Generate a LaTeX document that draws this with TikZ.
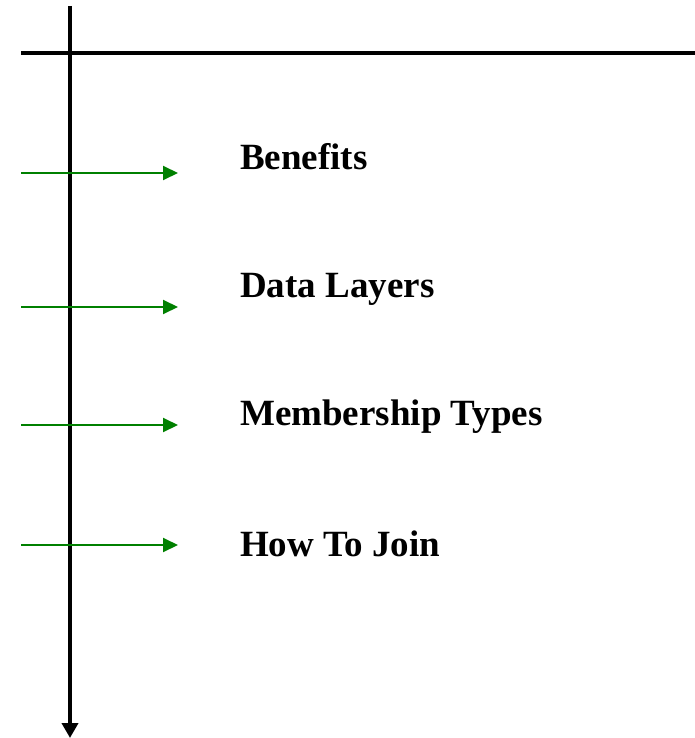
\documentclass[tikz,border=0pt]{standalone}
\usepackage{fontspec}
\setmainfont{Liberation Serif}
\usetikzlibrary{arrows.meta, positioning}

\begin{document}
\begin{tikzpicture}[x=1pt, y=-1pt,
    axis/.style={line width=4pt},
    pointer/.style={-{Triangle[length=15pt, width=14pt]}, draw={rgb,255:red,0;green,128;blue,0}, line width=2pt},
    item/.style={anchor=base west, inner sep=0pt, font=\fontsize{37}{44}\selectfont\bfseries}
    ]
    \useasboundingbox (0,0) rectangle (695,738);

    % axes
    \coordinate (top) at (70,6);
    \coordinate (bottom) at (70,738);
    \coordinate (left) at (21,53);
    \coordinate (right) at (695,53);
    \draw[axis] (left) -- (right);
    \draw[axis, -{Triangle[length=15pt, width=16pt]}] (top) -- (bottom);

    % items
    \node[item] (benefits) at (240,169) {Benefits};
    \node[item] (layers) at (240,297) {Data Layers};
    \node[item] (types) at (240,425) {Membership Types};
    \node[item] (join) at (240,556) {How To Join};

    \coordinate (s1) at (21,173);
    \coordinate (e1) at (178,173);
    \coordinate (s2) at (21,307);
    \coordinate (e2) at (178,307);
    \coordinate (s3) at (21,425);
    \coordinate (e3) at (178,425);
    \coordinate (s4) at (21,545);
    \coordinate (e4) at (178,545);

    \draw[pointer] (s1) -- (e1);
    \draw[pointer] (s2) -- (e2);
    \draw[pointer] (s3) -- (e3);
    \draw[pointer] (s4) -- (e4);
\end{tikzpicture}
\end{document}
